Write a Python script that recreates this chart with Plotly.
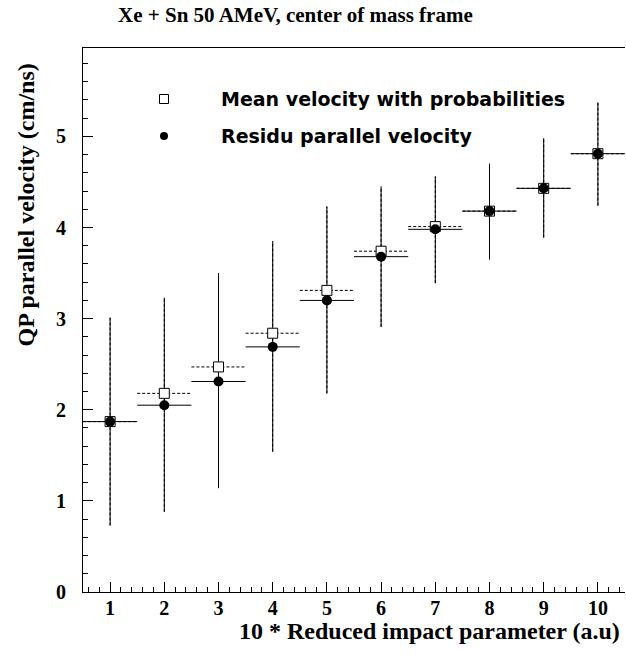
import plotly.graph_objects as go

# ---- data ----
impact_bins = [1, 2, 3, 4, 5, 6, 7, 8, 9, 10]
mean_velocity = [1.87, 2.18, 2.47, 2.84, 3.31, 3.74, 4.01, 4.18, 4.43, 4.81]
residu_velocity = [1.87, 2.05, 2.31, 2.69, 3.20, 3.68, 3.98, 4.18, 4.43, 4.81]
residu_err_up = [1.14, 1.18, 1.19, 1.16, 1.03, 0.77, 0.58, 0.52, 0.55, 0.56]
residu_err_down = [1.14, 1.17, 1.17, 1.15, 1.02, 0.77, 0.59, 0.53, 0.54, 0.57]
bin_half_width = 0.5
x_tick_vals = [1, 2, 3, 4, 5, 6, 7, 8, 9, 10]
y_tick_vals = [0, 1, 2, 3, 4, 5]

title_text = "Xe + Sn 50 AMeV, center of mass frame"
x_title = "10 * Reduced impact parameter (a.u)"
y_title = "QP parallel velocity (cm/ns)"
legend_mean = "Mean velocity with probabilities"
legend_residu = "Residu parallel velocity"

# ---- geometry ----
W, H = 626, 655
L, R, T, B = 83, 1, 48, 63
PW, PH = W - L - R, H - T - B


def px(xp):
    return (xp - L) / PW


def py(yp):
    return (H - B - yp) / PH


def bar_segments(xs, ys, lo, hi, hw):
    hx, hy, vx, vy = [], [], [], []
    for x, y, l, h in zip(xs, ys, lo, hi):
        hx += [x - hw, x + hw, None]
        hy += [y, y, None]
        vx += [x, x, None]
        vy += [l, h, None]
    return hx, hy, vx, vy


lo = [v - d for v, d in zip(residu_velocity, residu_err_down)]
hi = [v + u for v, u in zip(residu_velocity, residu_err_up)]

rhx, rhy, rvx, rvy = bar_segments(impact_bins, residu_velocity, lo, hi, bin_half_width)
mhx, mhy, mvx, mvy = bar_segments(impact_bins, mean_velocity, lo, hi, bin_half_width)

fig = go.Figure()
solid = dict(color="black", width=1)
dashed = dict(color="black", width=1, dash="3px,2px")
fig.add_trace(go.Scatter(x=rhx, y=rhy, mode="lines", line=solid, hoverinfo="skip"))
fig.add_trace(go.Scatter(x=rvx, y=rvy, mode="lines", line=solid, hoverinfo="skip"))
fig.add_trace(go.Scatter(x=mhx, y=mhy, mode="lines", line=dashed, hoverinfo="skip"))
fig.add_trace(go.Scatter(x=mvx, y=mvy, mode="lines", line=dashed, hoverinfo="skip"))
fig.add_trace(go.Scatter(x=impact_bins, y=mean_velocity, mode="markers", name=legend_mean,
                         marker=dict(symbol="square", size=10, color="white",
                                     line=dict(color="black", width=1))))
fig.add_trace(go.Scatter(x=impact_bins, y=residu_velocity, mode="markers", name=legend_residu,
                         marker=dict(symbol="circle", size=10, color="black",
                                     line=dict(color="black", width=0))))

serif_tick = dict(family="Liberation Serif", size=20, color="black", weight="bold")
axis_common = dict(showgrid=False, zeroline=False, showline=True, linecolor="black",
                   linewidth=1, ticks="inside", ticklen=10, tickcolor="black",
                   tickfont=serif_tick, automargin=False)

fig.update_xaxes(range=[0.5, 10.5], tickvals=x_tick_vals, mirror=True,
                 minor=dict(dtick=0.2, ticklen=5, ticks="inside", tickcolor="black"),
                 ticklabelstandoff=-2, **axis_common)
fig.update_yaxes(range=[0, 5.97], tickvals=y_tick_vals,
                 minor=dict(dtick=0.2, ticklen=5, ticks="inside", tickcolor="black"),
                 ticklabelstandoff=12, **axis_common)

annotations = [
    dict(text=title_text, x=px(295), y=py(15), xref="paper", yref="paper",
         xanchor="center", yanchor="middle", showarrow=False,
         font=dict(family="Liberation Serif", size=21, color="black", weight="bold")),
    dict(text=x_title, x=px(622), y=py(631), xref="paper", yref="paper",
         xanchor="right", yanchor="middle", showarrow=False,
         font=dict(family="Liberation Serif", size=24, color="black", weight="bold")),
    dict(text=y_title, x=px(25), y=py(62), xref="paper", yref="paper", textangle=-90,
         xanchor="center", yanchor="top", showarrow=False,
         font=dict(family="Liberation Serif", size=24, color="black", weight="bold")),
    dict(text=legend_mean, x=px(219), y=py(99), xref="paper", yref="paper",
         xanchor="left", yanchor="middle", showarrow=False,
         font=dict(family="DejaVu Sans", size=19, color="black", weight="bold")),
    dict(text=legend_residu, x=px(219), y=py(136), xref="paper", yref="paper",
         xanchor="left", yanchor="middle", showarrow=False,
         font=dict(family="DejaVu Sans", size=19, color="black", weight="bold")),
]

shapes = [
    dict(type="rect", xref="paper", yref="paper", x0=px(159.5), x1=px(168.5),
         y0=py(103.5), y1=py(94.5), line=dict(color="black", width=1), fillcolor="white"),
    dict(type="circle", xref="paper", yref="paper", x0=px(160), x1=px(168),
         y0=py(140), y1=py(132), line=dict(color="black", width=0), fillcolor="black"),
]

fig.update_layout(width=W, height=H, margin=dict(l=L, r=R, t=T, b=B, autoexpand=False),
                  paper_bgcolor="white", plot_bgcolor="white", showlegend=False,
                  annotations=annotations, shapes=shapes)

fig.write_html("out.html", config={"displayModeBar": False},
               post_script="document.body.style.margin='0';")
